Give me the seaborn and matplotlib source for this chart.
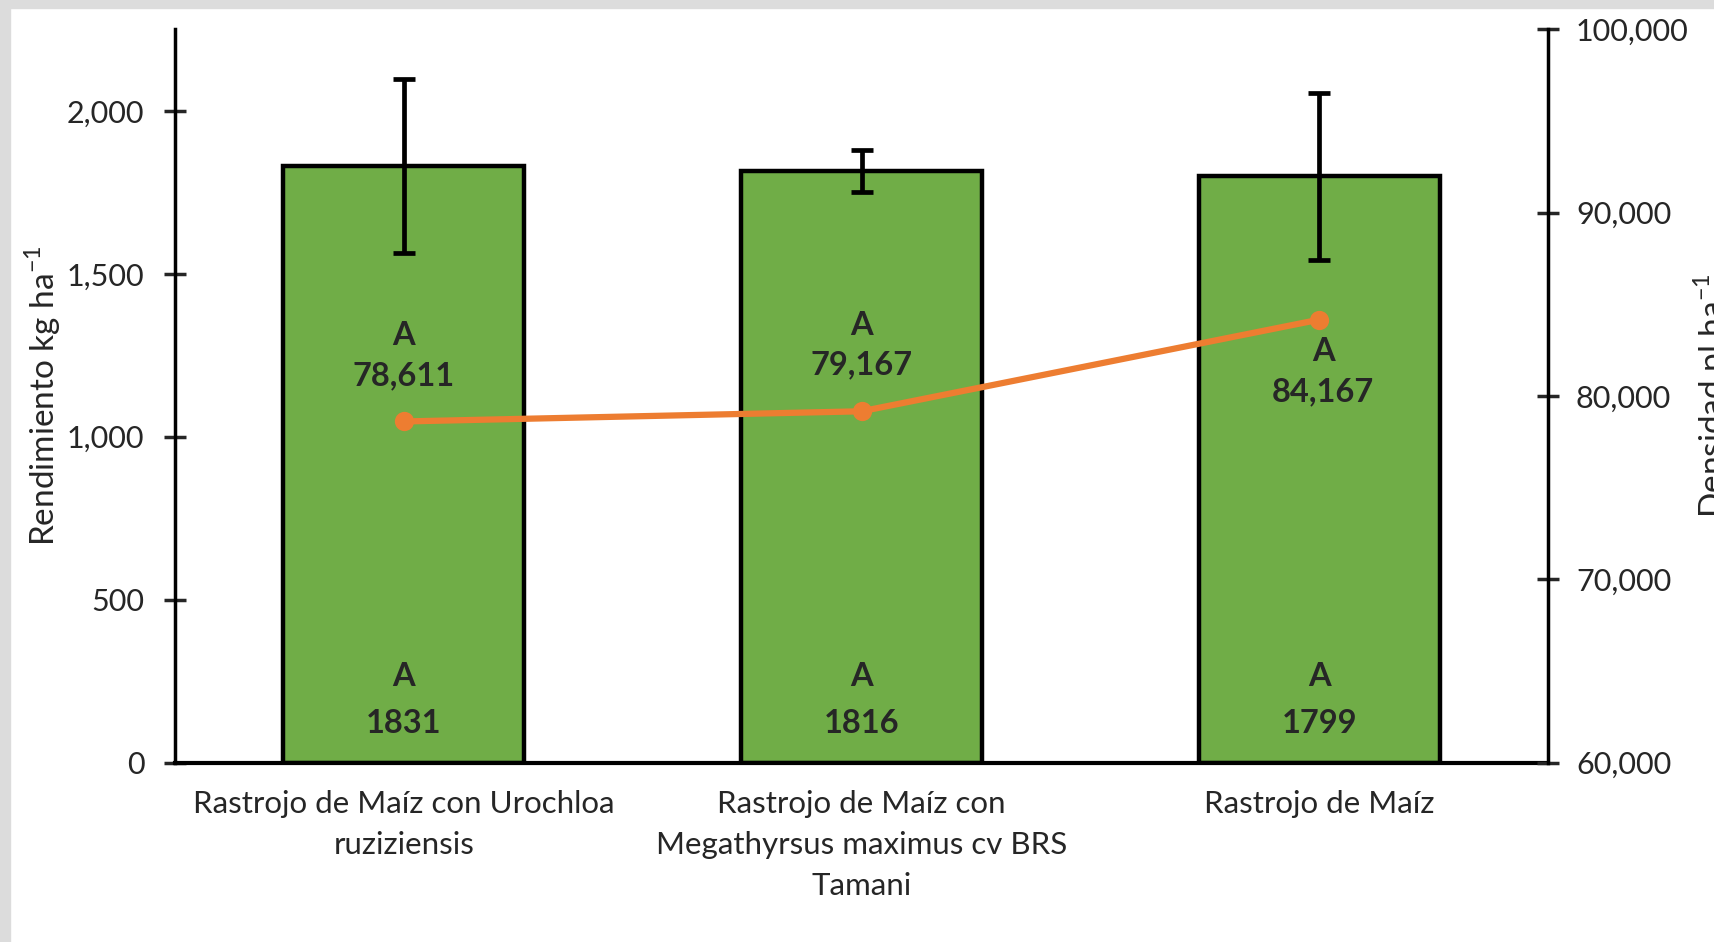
import pandas as pd
import seaborn as sns
import matplotlib.pyplot as plt
from matplotlib.patches import Rectangle
from matplotlib.ticker import FuncFormatter

# datos
tratamientos = ["Rastrojo de Maíz con Urochloa\nruziziensis",
                "Rastrojo de Maíz con\nMegathyrsus maximus cv BRS\nTamani",
                "Rastrojo de Maíz"]
rendimiento = [1831, 1816, 1799]
rend_err = [268, 64, 257]
densidad = [78611, 79167, 84167]
letras_rend = ["A", "A", "A"]
letras_dens = ["A", "A", "A"]
lado_etiqueta = ["arriba", "arriba", "abajo"]

df = pd.DataFrame({"trat": tratamientos, "rend": rendimiento,
                   "err": rend_err, "dens": densidad})

sns.set_style("white")
plt.rcParams['font.family'] = ['Lato', 'DejaVu Sans']

fig = plt.figure(figsize=(17.15, 9.42), dpi=100)
# marco gris de la captura
fig.add_artist(Rectangle((0, 0), 0.006, 1, transform=fig.transFigure, color="#dcdcdc", zorder=0))
fig.add_artist(Rectangle((0, 0.991), 1, 0.009, transform=fig.transFigure, color="#dcdcdc", zorder=0))

ax = fig.add_axes([0.102, 0.1905, 0.8007, 0.7782])
sns.barplot(data=df, x="trat", y="rend", color="#70AD47", width=0.526,
            edgecolor="black", linewidth=3.2, errorbar=None, ax=ax, saturation=1)
ax.errorbar(range(len(df)), df["rend"], yerr=df["err"], fmt="none",
            ecolor="black", elinewidth=3.4, capsize=8, capthick=3.4, zorder=5)

ax.set_ylim(0, 2250)
ax.set_yticks([0, 500, 1000, 1500, 2000])
ax.yaxis.set_major_formatter(FuncFormatter(lambda v, p: f"{int(v):,}"))
ax.set_xlim(-0.5, 2.5)
ax.set_xlabel("")
ax.set_ylabel("Rendimiento kg ha$^{\\mathregular{-1}}$", fontsize=24, labelpad=3)
ax.tick_params(axis="y", direction="inout", length=16, width=2.5, labelsize=22, pad=14)
ax.tick_params(axis="x", length=0, labelsize=22.5, pad=20)
for lab in ax.get_xticklabels():
    lab.set_linespacing(1.55)
for s in ["top", "right"]:
    ax.spines[s].set_visible(False)
ax.spines["left"].set_linewidth(2.5)
ax.spines["bottom"].set_linewidth(3)
for sp in ax.spines.values():
    sp.set_color("black")

for i, (v, l) in enumerate(zip(rendimiento, letras_rend)):
    ax.annotate(l, (i, 0), xytext=(0, 86), textcoords="offset pixels",
                ha="center", va="center", fontsize=23.5, fontweight="bold")
    ax.annotate(str(v), (i, 0), xytext=(0, 39), textcoords="offset pixels",
                ha="center", va="center", fontsize=23.5, fontweight="bold")

ax2 = ax.twinx()
sns.pointplot(data=df, x="trat", y="dens", color="#ED7D31", errorbar=None,
              markers="o", markersize=10.5, linewidth=4.5, ax=ax2)
ax2.set_ylim(60000, 100000)
ax2.set_yticks([60000, 70000, 80000, 90000, 100000])
ax2.yaxis.set_major_formatter(FuncFormatter(lambda v, p: f"{int(v):,}"))
ax2.set_xlim(-0.5, 2.5)
ax2.set_ylabel("Densidad pl ha$^{\\mathregular{-1}}$", fontsize=24, labelpad=2)
ax2.tick_params(axis="y", direction="inout", length=16, width=2.5, labelsize=22, pad=12)
for s in ["top", "left", "bottom"]:
    ax2.spines[s].set_visible(False)
ax2.spines["right"].set_linewidth(2.5)
ax2.spines["right"].set_color("black")

for i, (v, l, lado) in enumerate(zip(densidad, letras_dens, lado_etiqueta)):
    if lado == "arriba":
        dy_l, dy_v = 86, 46
    else:
        dy_l, dy_v = -32, -72
    dx = 4 if lado == "abajo" else 0
    ax2.annotate(l, (i, v), xytext=(dx, dy_l), textcoords="offset pixels",
                 ha="center", va="center", fontsize=23.5, fontweight="bold")
    ax2.annotate(f"{v:,}", (i, v), xytext=(dx, dy_v), textcoords="offset pixels",
                 ha="center", va="center", fontsize=23.5, fontweight="bold")

fig.savefig("out.png", dpi=100)
